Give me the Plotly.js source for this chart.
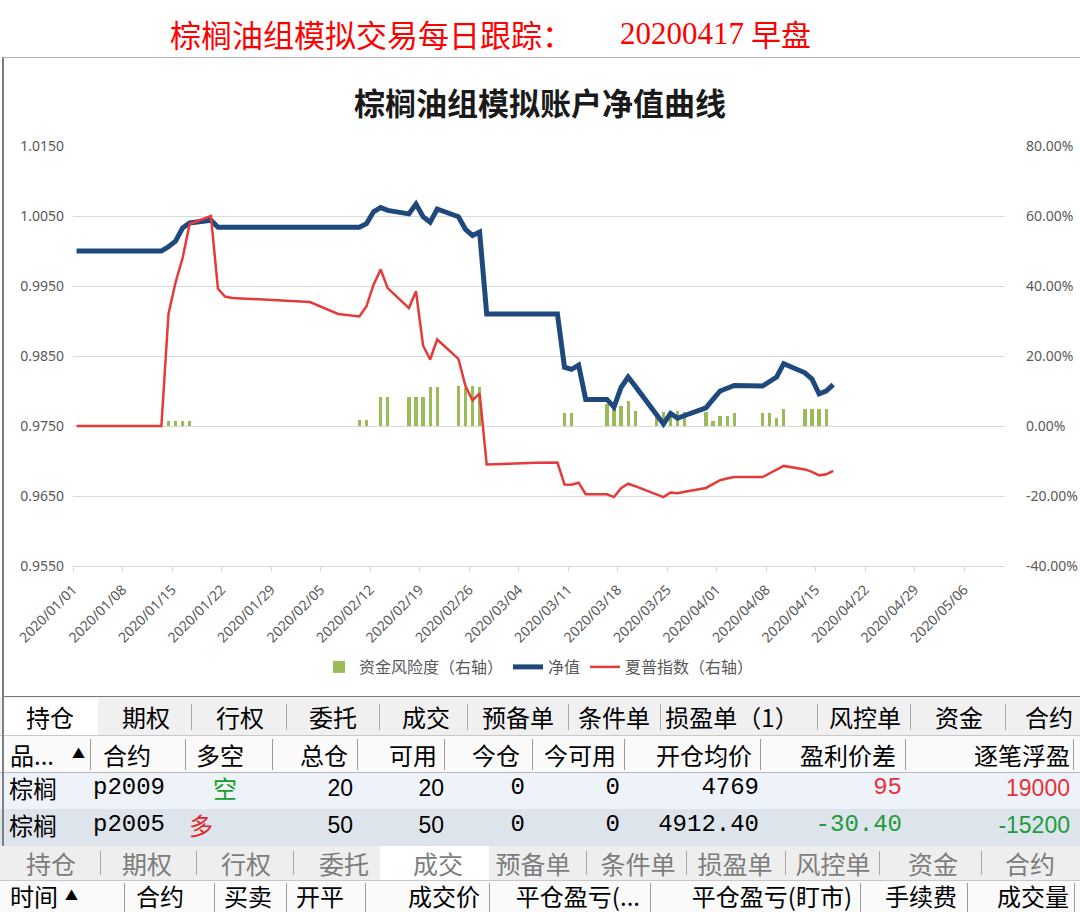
<!DOCTYPE html>
<html><head><meta charset="utf-8">
<script src="https://cdn.plot.ly/plotly-3.0.1.min.js"></script>
<style>
html,body{margin:0;padding:0;width:1080px;height:912px;overflow:hidden;background:#fff;font-family:"Noto Sans CJK SC","Noto Sans",sans-serif;}
.t{position:absolute;white-space:nowrap;}
.r{position:absolute;}
#frame{position:absolute;left:2px;top:57px;width:1090px;height:641px;border:2px solid #7a7a7a;border-top:1px solid #b0b0b0;box-sizing:border-box;pointer-events:none;}
#chart{position:absolute;left:0;top:0;width:1080px;height:695px;}
</style></head><body>
<div id="chart"></div>
<div id="frame"></div>
<script>
// ---------------- chart data ----------------
const dates = ['2020-01-01','2020-01-02','2020-01-03','2020-01-06','2020-01-07','2020-01-08','2020-01-09','2020-01-10','2020-01-13','2020-01-14','2020-01-15','2020-01-16','2020-01-17','2020-01-20','2020-01-21','2020-01-22','2020-01-23',
'2020-02-03','2020-02-04','2020-02-05','2020-02-06','2020-02-07','2020-02-10','2020-02-11','2020-02-12','2020-02-13','2020-02-14','2020-02-17','2020-02-18','2020-02-19','2020-02-20','2020-02-21','2020-02-24','2020-02-25','2020-02-26','2020-02-27','2020-02-28',
'2020-03-02','2020-03-03','2020-03-04','2020-03-05','2020-03-06','2020-03-09','2020-03-10','2020-03-11','2020-03-12','2020-03-13','2020-03-16','2020-03-17','2020-03-18','2020-03-19','2020-03-20','2020-03-23','2020-03-24','2020-03-25','2020-03-26','2020-03-27','2020-03-30','2020-03-31',
'2020-04-01','2020-04-02','2020-04-03','2020-04-07','2020-04-08','2020-04-09','2020-04-10','2020-04-13','2020-04-14','2020-04-15','2020-04-16','2020-04-17'];
const navValues = [1.0000,1.0000,1.0000,1.0000,1.0000,1.0000,1.0000,1.0000,1.0000,1.0006,1.0014,1.0033,1.0040,1.0044,1.0034,1.0034,1.0034,
1.0034,1.0034,1.0034,1.0034,1.0034,1.0034,1.0039,1.0056,1.0062,1.0058,1.0053,1.0067,1.0049,1.0041,1.0060,1.0049,1.0031,1.0022,1.0027,0.9910,
0.9910,0.9910,0.9910,0.9910,0.9910,0.9910,0.9834,0.9831,0.9837,0.9788,0.9788,0.9777,0.9805,0.9820,0.9807,0.9767,0.9753,0.9768,0.9761,0.9765,0.9776,0.9788,
0.9800,0.9804,0.9808,0.9807,0.9814,0.9820,0.9839,0.9826,0.9817,0.9796,0.9800,0.9809];
const sharpeValues = [0,0,0,0,0,0,0,0,0,0.320,0.410,0.480,0.577,0.600,0.392,0.370,0.366,
0.354,0.346,0.337,0.329,0.320,0.313,0.342,0.404,0.447,0.394,0.337,0.385,0.230,0.190,0.247,0.192,0.114,0.073,0.093,-0.110,
-0.109,-0.108,-0.107,-0.106,-0.105,-0.104,-0.167,-0.168,-0.162,-0.195,-0.195,-0.203,-0.178,-0.165,-0.172,-0.195,-0.203,-0.190,-0.192,-0.188,-0.177,-0.166,
-0.155,-0.150,-0.146,-0.146,-0.135,-0.124,-0.114,-0.124,-0.131,-0.141,-0.138,-0.128];
const riskValues = [0,0,0,0,0,0,0,0,0,0.015,0.015,0.015,0.015,0,0,0,0,
0,0,0,0,0,0.017,0.017,0,0.082,0.082,0.082,0.082,0.082,0.112,0.112,0.113,0.108,0.113,0.112,0,
0,0,0,0,0,0,0.036,0.036,0,0,0.063,0.060,0.057,0.071,0.042,0.041,0.041,0.044,0.044,0.041,0.041,0.014,
0.029,0.029,0.036,0.036,0.036,0.022,0.050,0.050,0.050,0.050,0.050,0];
const seriesNames = ['资金风险度（右轴）','净值','夏普指数（右轴）'];
const leftTicks = [0.955,0.965,0.975,0.985,0.995,1.005,1.015];
const leftTickText = ['0.9550','0.9650','0.9750','0.9850','0.9950','1.0050','1.0150'];
const rightTicks = [-0.4,-0.2,0,0.2,0.4,0.6,0.8];
const rightTickText = ['-40.00%','-20.00%','0.00%','20.00%','40.00%','60.00%','80.00%'];
const chartTitle = '棕榈油组模拟账户净值曲线';
const pageTitle = ['棕榈油组模拟交易每日跟踪：','20200417','早盘'];

// ---------------- table data ----------------
const tabs1 = ['持仓','期权','行权','委托','成交','预备单','条件单','损盈单（1）','风控单','资金','合约'];
const tabs2 = ['持仓','期权','行权','委托','成交','预备单','条件单','损盈单','风控单','资金','合约'];
const posHeaders = ['品...','合约','多空','总仓','可用','今仓','今可用','开仓均价','盈利价差','逐笔浮盈'];
const posRow1 = ['棕榈','p2009','空','20','20','0','0','4769','95','19000'];
const posRow2 = ['棕榈','p2005','多','50','50','0','0','4912.40','-30.40','-15200'];
const tradeHeaders = ['时间','合约','买卖','开平','成交价','平仓盈亏(...','平仓盈亏(盯市)','手续费','成交量'];

// ---------------- chart ----------------
const xs = dates.map(d => d + ' 12:00');
const DAY = 86400000;
const FONT = 'Noto Sans, Noto Sans CJK SC, sans-serif';
const traces = [
  {type:'bar', name:seriesNames[0], x:xs, y:riskValues, yaxis:'y', marker:{color:'#9bbb59'}, width:0.45*DAY},
  {type:'scatter', mode:'lines', name:seriesNames[1], x:xs, y:navValues, yaxis:'y2', line:{color:'#1f497d', width:5}},
  {type:'scatter', mode:'lines', name:seriesNames[2], x:xs, y:sharpeValues, yaxis:'y3', line:{color:'#e53a3a', width:2.5}}
];
const layout = {
  width:1080, height:695,
  margin:{l:73, r:75, t:146, b:128},
  paper_bgcolor:'rgba(0,0,0,0)', plot_bgcolor:'rgba(0,0,0,0)',
  font:{family:FONT, color:'#595959', size:14},
  title:{text:chartTitle, font:{family:'Noto Sans CJK SC', size:31, color:'#1a1a1a', weight:'bold'}, x:0.5, xanchor:'center', xref:'container', y:1-104/695, yanchor:'middle', yref:'container'},
  showlegend:true,
  legend:{orientation:'h', x:0.5, xanchor:'center', y:-100/421, yanchor:'middle', font:{size:16, color:'#595959', family:'Noto Sans CJK SC'}, itemwidth:30, traceorder:'normal'},
  bargap:0,
  xaxis:{type:'date', range:['2020-01-01','2020-05-11 19:00'], tick0:'2020-01-01', dtick:7*DAY, tickformat:'%Y/%m/%d', tickangle:-45,
    showgrid:false, showline:true, linecolor:'#d9d9d9', linewidth:1, ticks:'outside', ticklen:5, tickcolor:'#d9d9d9',
    ticklabelstandoff:4, tickfont:{size:14, color:'#595959'}, zeroline:false},
  yaxis:{range:[-0.4,0.8], side:'right', tickvals:rightTicks, ticktext:rightTickText, showgrid:true, gridcolor:'#d9d9d9', gridwidth:1,
    zeroline:false, ticks:'', ticklabelstandoff:20, tickfont:{size:14, color:'#595959'}},
  yaxis2:{range:[0.955,1.015], overlaying:'y', side:'left', tickvals:leftTicks, ticktext:leftTickText, showgrid:false, zeroline:false,
    ticks:'', ticklabelstandoff:8, tickfont:{size:14, color:'#595959'}},
  yaxis3:{range:[-0.4,0.8], overlaying:'y', side:'right', visible:false, showgrid:false, zeroline:false}
};
Plotly.newPlot('chart', traces, layout, {displayModeBar:false, staticPlot:true});

// ---------------- HTML parts ----------------
function txt(s, x, yc, o) {
  const d = document.createElement('div');
  d.className = 't';
  d.textContent = s;
  const h = Math.round(o.size*1.25);
  d.style.fontSize = o.size + 'px';
  d.style.fontFamily = o.font || '"Noto Sans CJK SC", sans-serif';
  d.style.color = o.color || '#000';
  if (o.weight) d.style.fontWeight = o.weight;
  d.style.height = h + 'px'; d.style.lineHeight = h + 'px';
  d.style.top = (yc - h/2) + 'px';
  if (o.align === 'r') d.style.right = (1080 - x) + 'px';
  else if (o.align === 'c') { d.style.left = (x - 150) + 'px'; d.style.width = '300px'; d.style.textAlign = 'center'; }
  else d.style.left = x + 'px';
  document.body.appendChild(d);
}
function rect(x, y, w, h, c) {
  const d = document.createElement('div');
  d.className = 'r';
  d.style.left = x + 'px'; d.style.top = y + 'px'; d.style.width = w + 'px'; d.style.height = h + 'px';
  d.style.background = c;
  document.body.appendChild(d);
}
const CJK = '"Noto Sans CJK SC", sans-serif';
const MONO = '"Liberation Mono", "DejaVu Sans Mono", monospace';
const SANS = '"Liberation Sans", Arial, sans-serif';

// page title
txt(pageTitle[0], 170, 33, {size:31, color:'#ff0000', font:CJK});
txt(pageTitle[1], 620, 33, {size:31, color:'#ff0000', font:'"Liberation Serif", serif'});
txt(pageTitle[2], 751, 33, {size:30, color:'#ff0000', font:CJK});

// table backgrounds
rect(0, 697, 1080, 39, '#f0f0f0');
rect(4, 698, 94, 38, '#ffffff');
rect(0, 735, 1080, 1, '#c8c8c8');
rect(0, 736, 1080, 36, '#fafafa');
rect(0, 772, 1080, 1, '#b8b8b8');
rect(0, 773, 1080, 36, '#eef3f9');
rect(0, 809, 1080, 37, '#dee4eb');
rect(0, 846, 1080, 34, '#eeeeee');
rect(380, 846, 109, 34, '#ffffff');
rect(0, 880, 1080, 1, '#c8c8c8');
rect(0, 881, 1080, 31, '#fafafa');
rect(2, 697, 2, 149, '#808080');

// row 1 tabs
const tab1X = [50,146,240,333,426,518,614,732,865,959,1049];
const tab1Sep = [191,286,379,467,568,660,817,910,1005];
tabs1.forEach((s,i) => txt(s, tab1X[i], 717, {size:24, align:'c'}));
tab1Sep.forEach(x => rect(x, 704, 1, 26, '#a8a8a8'));

// row 2 headers
const hdrX = [10,103,196,348,437,520,616,752,896,1070];
const hdrAlign = ['l','l','l','r','r','r','r','r','r','r'];
const hdrSep = [90,185,272,357,444,532,624,760,905,1073];
posHeaders.forEach((s,i) => txt(s, hdrX[i], 755, {size:24, align:hdrAlign[i]}));
txt('▲', 72, 753, {size:13});
hdrSep.forEach(x => rect(x, 739, 1, 31, '#9a9a9a'));

// rows 3-4
const cellX = [9,93,0,353,444,525,620,759,902,1070];
const cellFont = [CJK, MONO, CJK, SANS, SANS, MONO, MONO, MONO, MONO, SANS];
function drawRow(row, yc) {
  row.forEach((s,i) => {
    let color = '#000', x = cellX[i], align = (i < 3 ? 'l' : 'r');
    if (i === 2) { color = (s === '空') ? '#1c9c2c' : '#e02828'; x = (s === '空') ? 225 : 189; align = (s === '空') ? 'c' : 'l'; }
    if (i >= 8) color = parseFloat(s) < 0 ? '#1c9c3c' : '#e8303a';
    const size = (cellFont[i] === MONO) ? 24 : (cellFont[i] === SANS ? 23 : 24);
    txt(s, x, yc, {size:size, align:align, font:cellFont[i], color:color});
  });
}
drawRow(posRow1, 788);
drawRow(posRow2, 825);

// row 5 tabs
const tab2X = [51,147,246,344,438,533,638,735,833,933,1030];
const tab2Sep = [100,196,293,586,686,785,879,981];
tabs2.forEach((s,i) => txt(s, tab2X[i], 863, {size:25, align:'c', color:'#7d7d7d'}));
tab2Sep.forEach(x => rect(x, 851, 1, 24, '#a8a8a8'));

// row 6 headers
const trX = [10,136,224,296,480,640,852,957,1069];
const trAlign = ['l','l','l','l','r','r','r','r','r'];
const trSep = [124,214,286,365,489,650,860,967,1074];
tradeHeaders.forEach((s,i) => txt(s, trX[i], 896, {size:24, align:trAlign[i]}));
txt('▲', 65, 895, {size:13});
trSep.forEach(x => rect(x, 883, 1, 29, '#9a9a9a'));
</script>
</body></html>
